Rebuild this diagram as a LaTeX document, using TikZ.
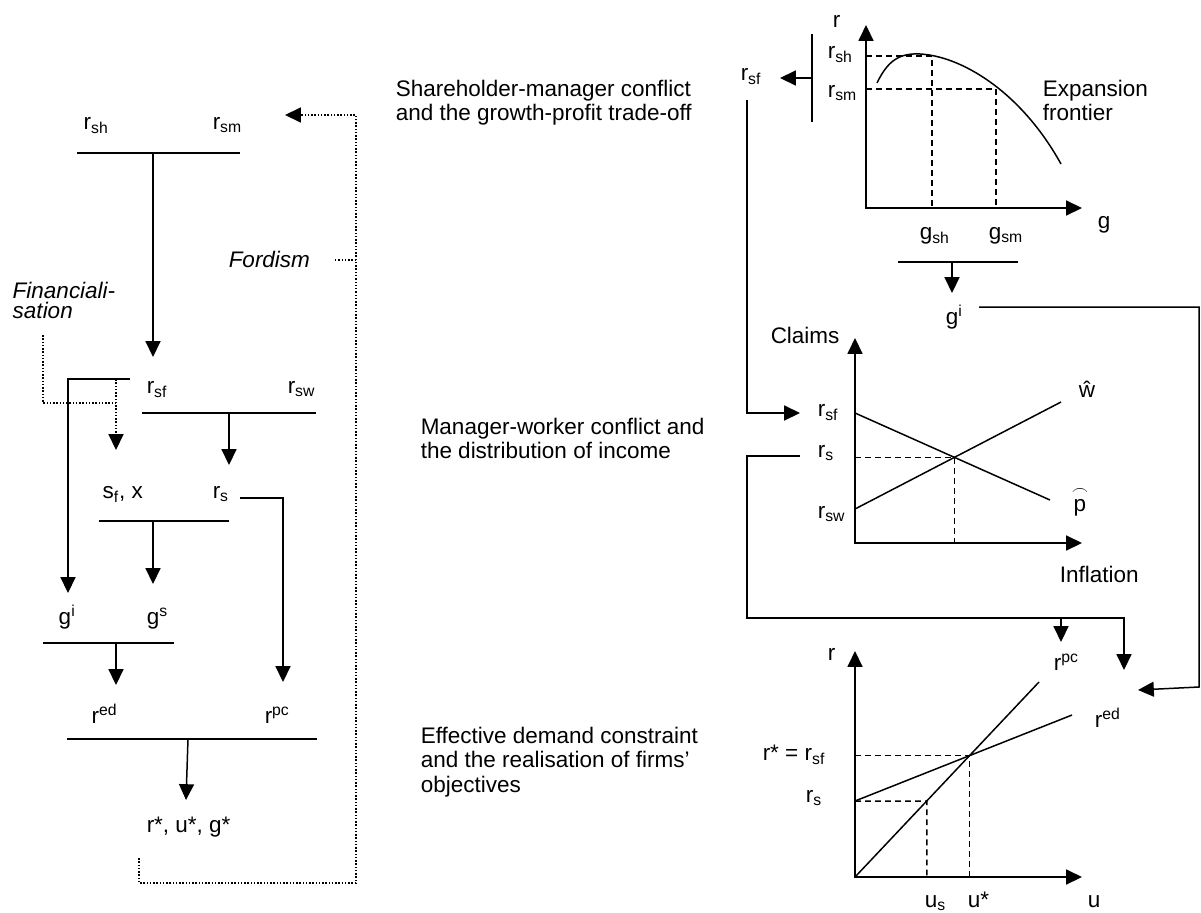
\documentclass[tikz,border=0pt]{standalone}
\usepackage{amsmath}
\usepackage{fontspec}
\setmainfont{Liberation Sans}
\usetikzlibrary{arrows.meta}

\begin{document}
\begin{tikzpicture}[x=2cm, y=-2cm, line width=0.85pt,
    font=\fontsize{12.8}{14}\selectfont,
    lbl/.style={inner sep=0pt, anchor=base west},
    blk/.style={inner sep=0pt, anchor=north west, align=left},
    arr/.style={-{Triangle[length=9pt,width=8.5pt]}},
    axes/.style={{Triangle[length=9pt,width=8.5pt]}-{Triangle[length=9pt,width=8.5pt]}},
    dsh/.style={dash pattern=on 3.3pt off 2.4pt},
    dots/.style={densely dotted}]
  \useasboundingbox (0,0) rectangle (12.01,9.12);

  % Causal chain (left)
  \foreach \n/\x/\y in {b1/1.53/1.53, t1/1.53/3.57, b2/2.29/4.13, t2/2.29/4.65,
      b3/1.53/5.21, t3/1.53/5.84, b4/1.16/6.43, t4/1.16/6.85, b5/1.88/7.39, t5/1.86/8.00,
      s0/1.30/3.79, s1/0.68/5.93, q0/2.40/4.98, q1/2.83/6.82,
      k0/0.43/3.35, k1/1.16/4.03, k2/1.16/3.79, k3/1.16/4.50,
      l0/1.39/8.58, c1/3.56/8.83, c2/3.56/1.15, l1/2.85/1.15, f0/3.35/2.60}
    \coordinate (\n) at (\x,\y);
  \node[lbl] (rsh) at (0.83,1.29) {r\textsubscript{sh}};
  \node[lbl] (rsm) at (2.12,1.29) {r\textsubscript{sm}};
  \node[lbl] (rsf) at (1.46,3.93) {r\textsubscript{sf}};
  \node[lbl] (rsw) at (2.87,3.93) {r\textsubscript{sw}};
  \node[lbl] (sfx) at (1.02,4.98) {s\textsubscript{f}, x};
  \node[lbl] (rs)  at (2.12,4.98) {r\textsubscript{s}};
  \node[lbl] (gi)  at (0.58,6.24) {g\textsuperscript{i}};
  \node[lbl] (gs)  at (1.46,6.24) {g\textsuperscript{s}};
  \node[lbl] (red) at (0.91,7.23) {r\textsuperscript{ed}};
  \node[lbl] (rpc) at (2.64,7.23) {r\textsuperscript{pc}};
  \node[lbl] (eqm) at (1.46,8.32) {r*, u*, g*};
  \node[lbl, font=\itshape\fontsize{12.8}{14}\selectfont] (ford) at (2.28,2.67) {Fordism};
  \node[blk, font=\itshape\fontsize{12.8}{11.4}\selectfont] (fin) at (0.12,2.81)
    {Financiali-\\sation};
  \draw (0.77,1.53) -- (2.40,1.53);
  \draw (1.42,4.13) -- (3.16,4.13);
  \draw (0.99,5.21) -- (2.29,5.21);
  \draw (0.43,6.43) -- (1.74,6.43);
  \draw (0.67,7.39) -- (3.17,7.39);
  \foreach \a/\b in {b1/t1, b2/t2, b3/t3, b4/t4, b5/t5}
    \draw[arr] (\a) -- (\b);
  \draw[arr] (s0) -| (s1);
  \draw[arr] (q0) -| (q1);
  \draw[dots] (k0) |- (k1);
  \draw[dots, arr] (k2) -- (k3);
  \draw[dots, arr] (l0) |- (c1) -- (c2) -- (l1);
  \draw[dots] (f0) -- (f0 -| c1);

  % Stage captions
  \node[blk] (sm) at (3.95,0.79) {Shareholder-manager conflict\\and the growth-profit trade-off};
  \node[blk] (mw) at (4.20,4.17) {Manager-worker conflict and\\the distribution of income};
  \node[blk] (ed) at (4.20,7.26) {Effective demand constraint\\and the realisation of firms'\\objectives};

  % Graphs (right)
  \foreach \n/\x/\y in {o1/8.66/2.08, y1/8.66/0.25, x1/10.82/2.08,
      o2/8.55/5.43, y2/8.55/3.38, x2/10.82/5.43,
      o3/8.55/8.77, y3/8.55/6.51, x3/10.82/8.77,
      a0/8.12/0.78, a1/7.80/0.78, b6/9.52/2.62, t6/9.52/2.93,
      h0/9.79/3.07, h2/11.99/6.87, h1/11.38/6.90, p0/7.47/1.00, p1/8.00/4.13,
      n0/8.00/4.56, n4/7.47/6.18, n1/11.24/6.70, n2/10.61/6.18, n3/10.61/6.42,
      ph0/8.55/4.13, ph1/10.50/5.00, wh0/8.55/5.09, wh1/10.61/4.02,
      pc1/10.39/6.82, ed0/8.55/8.01, ed1/10.72/7.15, rsx/10.00/8.01}
    \coordinate (\n) at (\x,\y);
  % growth-profit
  \draw[axes] (y1) -- (o1) -- (x1);
  \draw (8.77,0.83) .. controls (8.88,0.60) and (9.00,0.53) .. (9.20,0.54)
    .. controls (9.60,0.56) and (10.20,0.90) .. (10.61,1.64);
  \draw[dsh] (8.66,0.56) -- (9.32,0.56) -- (9.32,2.08);
  \draw[dsh] (8.66,0.89) -- (9.96,0.89) -- (9.96,2.08);
  \draw (8.12,0.34) -- (8.12,1.22);
  \draw (8.98,2.62) -- (10.18,2.62);
  \node[lbl] (rax1) at (8.32,0.27) {r};
  \node[lbl] (rsh1) at (8.27,0.58) {r\textsubscript{sh}};
  \node[lbl] (rsm1) at (8.27,0.97) {r\textsubscript{sm}};
  \node[blk] (front) at (10.42,0.79) {Expansion\\frontier};
  \node[lbl] (gax1) at (10.97,2.28) {g};
  \node[lbl] (gsh) at (9.19,2.39) {g\textsubscript{sh}};
  \node[lbl] (gsm) at (9.88,2.39) {g\textsubscript{sm}};
  \node[lbl] (gi1) at (9.45,3.24) {g\textsuperscript{i}};
  \node[lbl] (rsf1) at (7.40,0.80) {r\textsubscript{sf}};
  % distribution
  \draw[axes] (y2) -- (o2) -- (x2);
  \draw (ph0) -- (ph1);
  \draw (wh0) -- (wh1);
  \coordinate (eq2) at (intersection of ph0--ph1 and wh0--wh1);
  \draw[dsh] (o2 |- eq2) -- (eq2) -- (eq2 |- o2);
  \node[lbl] (claims) at (7.70,3.43) {Claims};
  \node[lbl] (rsf2) at (8.17,4.16) {r\textsubscript{sf}};
  \node[lbl] (rs2) at (8.17,4.57) {r\textsubscript{s}};
  \node[lbl] (rsw2) at (8.17,5.18) {r\textsubscript{sw}};
  \node[lbl] (what) at (10.78,3.97) {\^w};
  \node[lbl] (phat) at (10.71,5.11) {$\overset{\frown}{\text{p}}$};
  \node[lbl] (infl) at (10.59,5.82) {Inflation};
  % effective demand
  \draw[axes] (y3) -- (o3) -- (x3);
  \draw (o3) -- (pc1);
  \draw (ed0) -- (ed1);
  \coordinate (eq3) at (intersection of o3--pc1 and ed0--ed1);
  \coordinate (usx) at (intersection of o3--pc1 and ed0--rsx);
  \draw[dsh] (o3 |- eq3) -- (eq3) -- (eq3 |- o3);
  \draw[dsh] (ed0) -- (usx) -- (usx |- o3);
  \node[lbl] (rax3) at (8.27,6.60) {r};
  \node[lbl] (rpc3) at (10.53,6.70) {r\textsuperscript{pc}};
  \node[lbl] (red3) at (10.94,7.27) {r\textsuperscript{ed}};
  \node[lbl] (rstar) at (7.62,7.60) {r* = r\textsubscript{sf}};
  \node[lbl] (rs3) at (8.05,8.02) {r\textsubscript{s}};
  \node[lbl] (us) at (9.24,9.07) {u\textsubscript{s}};
  \node[lbl] (ustar) at (9.67,9.07) {u*};
  \node[lbl] (uax) at (10.87,9.07) {u};
  % links between graphs
  \draw[arr] (a0) -- (a1);
  \draw[arr] (b6) -- (t6);
  \draw[arr] (h0) -| (h2) -- (h1);
  \draw[arr] (p0) |- (p1);
  \draw[arr] (n0) -| (n4) -| (n1);
  \draw[arr] (n2) -- (n3);
\end{tikzpicture}
\end{document}
